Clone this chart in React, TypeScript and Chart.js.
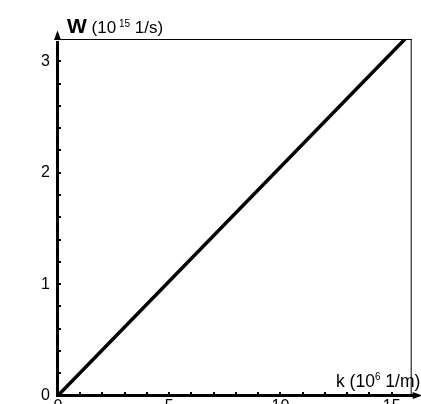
import { useEffect, useRef } from 'react';
import { Chart, registerables } from 'chart.js';

Chart.register(...registerables);

// Dispersion line: angular frequency W against wave number k
const K_VALUES = [0, 15.6];
const W_VALUES = [0, 3.2];

const X_MAX = 15.9;
const Y_MAX = 3.2;

const X_TICK_VALUES = [0, 1, 2, 3, 4, 5, 6, 7, 8, 9, 10, 11, 12, 13, 14, 15];
const X_TICK_LABELS = ['0', '', '', '', '', '5', '', '', '', '', '10', '', '', '', '', '15'];
const Y_TICK_VALUES = [0, 0.2, 0.4, 0.6, 0.8, 1, 1.2, 1.4, 1.6, 1.8, 2, 2.2, 2.4, 2.6, 2.8, 3];
const Y_TICK_LABELS = ['0', '', '', '', '', '1', '', '', '', '', '2', '', '', '', '', '3'];

const W = 421;
const H = 440;
const FONT = "'Liberation Sans', Arial, sans-serif";

type Seg = { text: string; size: number; bold?: boolean; dy?: number };

function drawSegments(ctx: CanvasRenderingContext2D, x: number, y: number, segs: Seg[]) {
  let cx = x;
  for (const s of segs) {
    ctx.font = `${s.bold ? 'bold ' : ''}${s.size}px ${FONT}`;
    ctx.fillText(s.text, cx, y + (s.dy || 0));
    cx += ctx.measureText(s.text).width;
  }
}

const axesPlugin = {
  id: 'axesFrame',
  beforeDatasetsDraw(chart: any) {
    const { ctx, chartArea, scales } = chart;
    const { left, right, top, bottom } = chartArea;
    ctx.save();
    ctx.strokeStyle = '#000';
    ctx.fillStyle = '#000';

    // thin frame on top and right
    ctx.lineWidth = 1;
    ctx.beginPath();
    ctx.moveTo(left, top + 0.5);
    ctx.lineTo(right, top + 0.5);
    ctx.moveTo(right - 0.5, top);
    ctx.lineTo(right - 0.5, bottom);
    ctx.stroke();

    // minor tick marks inside the axes
    ctx.lineWidth = 2;
    ctx.beginPath();
    for (const t of scales.y.ticks) {
      const py = Math.round(scales.y.getPixelForValue(t.value));
      ctx.moveTo(left, py);
      ctx.lineTo(left + 3, py);
    }
    for (const t of scales.x.ticks) {
      const px = Math.round(scales.x.getPixelForValue(t.value));
      ctx.moveTo(px, bottom);
      ctx.lineTo(px, bottom - 3.5);
    }
    ctx.stroke();

    // thick axes
    ctx.lineWidth = 3;
    ctx.beginPath();
    ctx.moveTo(left - 0.5, bottom + 1.5);
    ctx.lineTo(left - 0.5, top + 2);
    ctx.moveTo(left - 2, bottom);
    ctx.lineTo(right + 2, bottom);
    ctx.stroke();

    // arrow heads
    ctx.beginPath();
    ctx.moveTo(left - 0.5, top - 8.5);
    ctx.lineTo(left - 4, top + 1);
    ctx.lineTo(left + 3, top + 1);
    ctx.closePath();
    ctx.fill();
    ctx.beginPath();
    ctx.moveTo(right + 11, bottom);
    ctx.lineTo(right + 1, bottom - 3.5);
    ctx.lineTo(right + 1, bottom + 3.5);
    ctx.closePath();
    ctx.fill();
    ctx.restore();
  },
  afterDraw(chart: any) {
    const { ctx } = chart;
    ctx.save();
    ctx.fillStyle = '#000';
    ctx.textBaseline = 'alphabetic';
    ctx.textAlign = 'left';
    drawSegments(ctx, 67, 33, [
      { text: 'W', size: 21, bold: true },
      { text: ' (10', size: 17 },
      { text: ' 15', size: 10, dy: -6 },
      { text: ' 1/s)', size: 17 },
    ]);
    drawSegments(ctx, 336, 387, [
      { text: 'k (10', size: 17.5 },
      { text: '6', size: 10, dy: -7 },
      { text: ' 1/m)', size: 17.5 },
    ]);
    ctx.restore();
  },
};

export default function App() {
  const ref = useRef<HTMLCanvasElement | null>(null);

  useEffect(() => {
    const canvas = ref.current;
    if (!canvas) return;
    const points = K_VALUES.map((k, i) => ({ x: k, y: W_VALUES[i] }));
    const chart = new Chart(canvas, {
      type: 'line',
      data: {
        datasets: [
          {
            data: points,
            borderColor: '#000',
            borderWidth: 3.5,
            pointRadius: 0,
            fill: false,
            tension: 0,
          },
        ],
      },
      options: {
        animation: false,
        responsive: false,
        devicePixelRatio: 1,
        layout: { padding: { left: 0, top: 39, right: 9.3, bottom: 0 } },
        plugins: { legend: { display: false }, tooltip: { enabled: false } },
        scales: {
          x: {
            type: 'linear',
            min: 0,
            max: X_MAX,
            afterFit(s: any) {
              s.height = H - 395.5;
            },
            afterBuildTicks(s: any) {
              s.ticks = X_TICK_VALUES.map((v) => ({ value: v }));
            },
            grid: { display: false, drawTicks: false },
            border: { display: false },
            ticks: {
              autoSkip: false,
              maxRotation: 0,
              padding: 1.5,
              color: '#000',
              font: { family: FONT, size: 16 },
              callback: (_v: any, i: number) => X_TICK_LABELS[i],
            },
          },
          y: {
            type: 'linear',
            min: 0,
            max: Y_MAX,
            afterFit(s: any) {
              s.width = 58;
            },
            afterBuildTicks(s: any) {
              s.ticks = Y_TICK_VALUES.map((v) => ({ value: v }));
            },
            grid: { display: false, drawTicks: false },
            border: { display: false },
            ticks: {
              autoSkip: false,
              padding: 8,
              color: '#000',
              font: { family: FONT, size: 16 },
              callback: (_v: any, i: number) => Y_TICK_LABELS[i],
            },
          },
        },
      },
      plugins: [axesPlugin],
    });
    return () => chart.destroy();
  }, []);

  return (
    <div style={{ position: 'fixed', left: 0, top: 0, width: W, height: H, background: '#fff' }}>
      <canvas ref={ref} width={W} height={H} style={{ display: 'block' }} />
    </div>
  );
}
